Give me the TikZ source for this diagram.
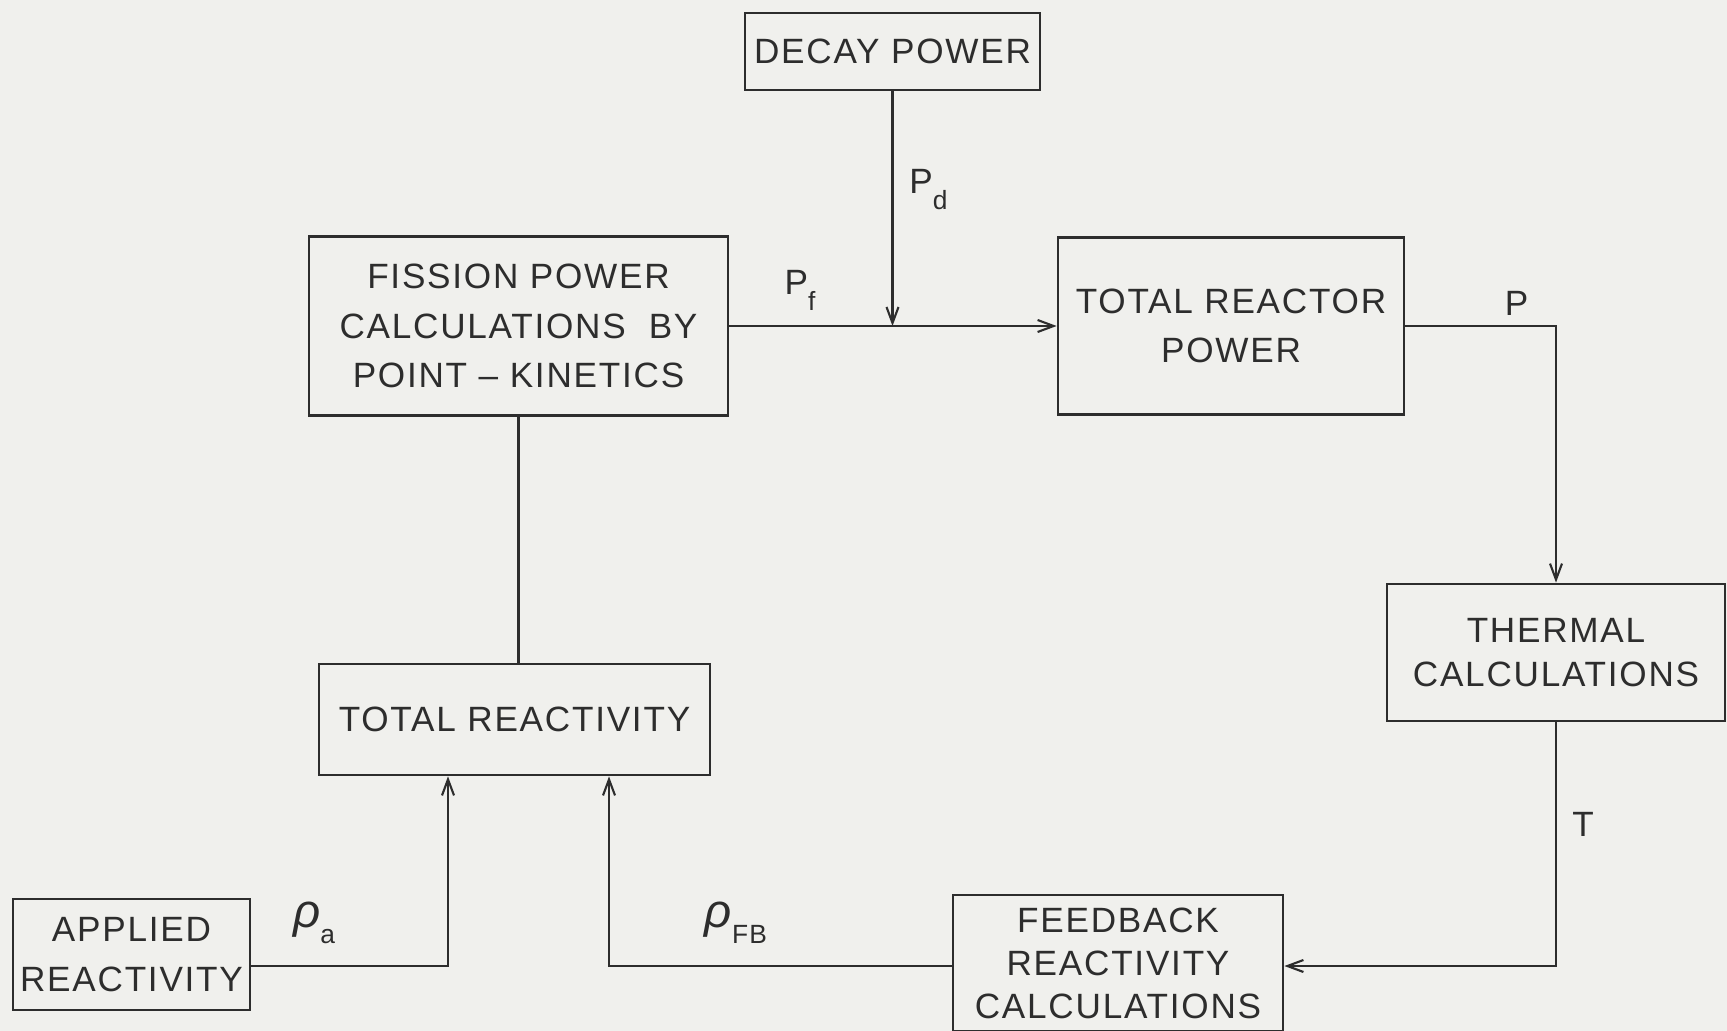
\documentclass[tikz,border=0pt]{standalone}
\usepackage{fontspec}
\newfontfamily\boxfont[LetterSpace=5]{Liberation Sans}
\usetikzlibrary{arrows.meta, positioning}
\definecolor{paper}{RGB}{240,240,237}
\definecolor{ink}{RGB}{45,45,45}
\newcommand\lowidx[1]{\raisebox{-0.45em}{\fontsize{15}{15}\selectfont #1}}
\newcommand\rhosym{{\fontsize{27}{27}\selectfont\itshape ρ}}

\begin{document}
\begin{tikzpicture}[
  blockbox/.style={draw=ink, line width=1.6pt, align=center, inner sep=0pt,
    text=ink, font=\boxfont\fontsize{20}{28}\selectfont},
  flow/.style={draw=ink, line width=1.2pt,
    -{Straight Barb[length=3.2mm,width=2.4mm]}},
  link/.style={draw=ink, line width=1.2pt},
  sig/.style={text=ink, font=\boxfont\fontsize{20}{24}\selectfont}
]
% page
\fill[paper] (0,0) rectangle (34.54,-20.62);
\useasboundingbox (0,0) rectangle (34.54,-20.62);

% blocks
\node[blockbox, minimum width=5.9cm, minimum height=1.54cm] (decay) at (17.85,-1.03) {DECAY POWER};
\node[blockbox, minimum width=8.38cm, minimum height=3.58cm] (fission) at (10.37,-6.52)
  {FISSION POWER\\CALCULATIONS\ \ BY\\POINT \textendash\ KINETICS};
\node[blockbox, minimum width=6.92cm, minimum height=3.54cm] (reactor) at (24.62,-6.52)
  {TOTAL REACTOR\\POWER};
\node[blockbox, minimum width=6.76cm, minimum height=2.74cm,
  font=\boxfont\fontsize{20}{25}\selectfont] (thermal) at (31.12,-13.05) {THERMAL\\CALCULATIONS};
\node[blockbox, minimum width=7.82cm, minimum height=2.22cm] (totrho) at (10.29,-14.39) {TOTAL REACTIVITY};
\node[blockbox, minimum width=4.74cm, minimum height=2.22cm] (applied) at (2.63,-19.09) {APPLIED\\REACTIVITY};
\node[blockbox, minimum width=6.6cm, minimum height=2.72cm,
  font=\boxfont\fontsize{20}{24.5}\selectfont] (feedback) at (22.36,-19.26) {FEEDBACK\\REACTIVITY\\CALCULATIONS};

% loop line
\coordinate (fbline) at (0,-19.32);
\coordinate (join) at (decay.south |- fission.east);

% connectors
\draw[flow] (decay.south) -- (join);
\draw[flow] (fission.east) -- (reactor.west);
\draw[flow] (reactor.east) -| (thermal.north);
\draw[flow] (thermal.south) |- (feedback.east |- fbline);
\draw[flow] (feedback.west |- fbline) -| ([xshift=1.89cm]totrho.south);
\draw[flow] (applied.east |- fbline) -| ([xshift=-1.33cm]totrho.south);
\draw[link] (fission.south) -- (fission.south |- totrho.north);

% signals
\node[sig] (pd) at (18.57,-3.79) {P\lowidx{d}};
\node[sig] (pf) at (16.0,-5.81) {P\lowidx{f}};
\node[sig] (ptot) at (30.33,-6.06) {P};
\node[sig] (temp) at (31.66,-16.48) {T};
\node[sig] (rhoa) at (6.28,-18.45) {\rhosym\lowidx{a}};
\node[sig] (rhofb) at (14.72,-18.45) {\rhosym\lowidx{FB}};
\end{tikzpicture}
\end{document}
